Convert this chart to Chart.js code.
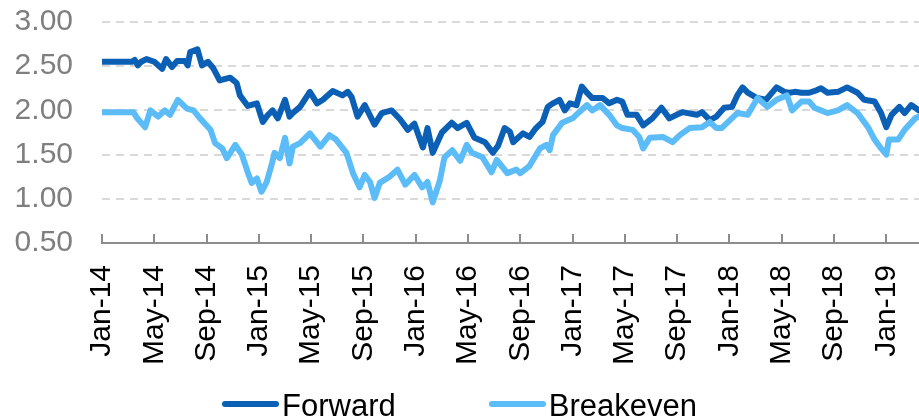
<!DOCTYPE html>
<html>
<head>
<meta charset="utf-8">
<script src="https://cdn.jsdelivr.net/npm/chart.js@4/dist/chart.umd.min.js"></script>
<style>
  html, body { margin: 0; padding: 0; background: #fff; }
  #wrap { position: relative; width: 919px; height: 419px; }
  #legend { position: absolute; left: 0; top: 390px; width: 919px; text-align: center;
            font-family: "Liberation Sans", Arial, sans-serif; font-size: 31px; line-height: 31px; color: #000; white-space: nowrap; }
  #legend .item { display: inline-block; }
  #legend .item + .item { margin-left: 93px; }
  #legend .bar { display: inline-block; width: 57px; height: 6px; border-radius: 3px; margin-right: 3px; vertical-align: 9px; }
</style>
</head>
<body>
<div id="wrap">
  <canvas id="chart"></canvas>
  <div id="legend"></div>
</div>
<script>
// axis labels, one every 4 months starting Jan-14
const tickLabels = ['Jan-14', 'May-14', 'Sep-14', 'Jan-15', 'May-15', 'Sep-15', 'Jan-16', 'May-16',
                    'Sep-16', 'Jan-17', 'May-17', 'Sep-17', 'Jan-18', 'May-18', 'Sep-18', 'Jan-19'];

// x = months since Jan-14
const fwdMonths = [0, 2.3, 2.5, 2.75, 3.0, 3.4, 4.0, 4.6, 4.9, 5.35, 5.75, 6.35, 6.55, 6.75, 7.3, 7.65, 8.1, 8.5, 9.0,
  9.8, 10.3, 10.55, 11.15, 11.85, 12.3, 12.7, 13.05, 13.45, 14.0, 14.35, 14.6, 15.15, 15.5, 15.9, 16.45, 16.9,
  17.65, 18.4, 18.8, 19.1, 19.55, 20.1, 20.85, 21.4, 22.15, 22.8, 23.4, 23.9, 24.55, 24.9, 25.3, 26.0, 26.75,
  27.2, 27.9, 28.5, 29.3, 29.9, 30.3, 30.8, 31.2, 31.45, 32.2, 32.7, 33.2, 33.7, 34.1, 34.5, 35.0, 35.4, 35.8,
  36.3, 36.7, 37.1, 37.5, 38.3, 38.8, 39.4, 39.8, 40.2, 40.9, 41.4, 42.1, 42.8, 43.4, 43.95, 44.4, 45.5, 45.9,
  46.5, 47.0, 47.6, 48.2, 48.6, 49.0, 49.4, 50.1, 50.8, 51.6, 52.2, 52.6, 53.0, 53.5, 54.1, 54.7, 55.0, 55.5,
  56.3, 57.0, 57.8, 58.3, 59.1, 59.6, 60.0, 60.4, 61.0, 61.4, 61.9, 62.5];
const forward = [2.55, 2.55, 2.57, 2.51, 2.55, 2.58, 2.55, 2.47, 2.58, 2.49, 2.56, 2.56, 2.51, 2.66, 2.69, 2.51, 2.55, 2.48, 2.34,
  2.37, 2.31, 2.17, 2.05, 2.08, 1.87, 1.95, 2.00, 1.91, 2.12, 1.93, 1.97, 2.04, 2.12, 2.21, 2.08, 2.12,
  2.22, 2.17, 2.21, 2.15, 1.93, 2.06, 1.84, 1.97, 2.00, 1.90, 1.78, 1.85, 1.58, 1.80, 1.52, 1.75, 1.86,
  1.80, 1.86, 1.69, 1.64, 1.52, 1.60, 1.80, 1.76, 1.64, 1.74, 1.70, 1.80, 1.87, 2.04, 2.08, 2.12, 2.00, 2.08,
  2.06, 2.27, 2.20, 2.14, 2.14, 2.08, 2.12, 2.10, 1.95, 1.95, 1.83, 1.91, 2.03, 1.91, 1.95, 1.98, 1.95, 1.98,
  1.89, 1.93, 2.03, 2.04, 2.17, 2.26, 2.20, 2.14, 2.12, 2.26, 2.21, 2.20, 2.21, 2.20, 2.20, 2.23, 2.25, 2.20,
  2.21, 2.26, 2.20, 2.12, 2.10, 1.97, 1.81, 1.95, 2.04, 1.97, 2.06, 2.00];

const beMonths = [0, 2.4, 2.7, 3.3, 3.7, 4.3, 4.8, 5.2, 5.8, 6.5, 7.0, 7.5, 8.3, 8.65, 9.2, 9.55, 10.2, 10.7, 11.15,
  11.45, 11.85, 12.2, 12.6, 13.0, 13.2, 13.6, 14.0, 14.35, 14.6, 15.15, 15.9, 16.7, 17.4, 17.9, 18.7, 19.2,
  19.7, 20.1, 20.5, 20.85, 21.25, 22.0, 22.6, 23.2, 23.9, 24.5, 24.9, 25.3, 25.85, 26.2, 26.8, 27.4, 27.9,
  28.3, 29.1, 29.8, 30.2, 31.0, 31.7, 32.0, 32.7, 33.5, 34.0, 34.25, 34.5, 35.2, 36.0, 36.5, 37.1, 37.5,
  38.1, 38.8, 39.4, 39.8, 40.6, 41.1, 41.4, 41.9, 42.9, 43.65, 44.2, 44.95, 45.9, 46.5, 47.0, 47.4, 47.9,
  48.6, 49.4, 50.15, 50.9, 51.6, 52.4, 52.8, 53.5, 54.1, 54.5, 55.5, 56.3, 57.0, 57.8, 58.6, 59.1, 59.6,
  60.0, 60.2, 60.9, 61.4, 62.2, 62.5];
const breakeven = [1.98, 1.98, 1.91, 1.81, 2.00, 1.93, 2.00, 1.95, 2.12, 2.02, 2.00, 1.91, 1.78, 1.63, 1.57, 1.46, 1.61, 1.50, 1.30,
  1.18, 1.23, 1.08, 1.19, 1.40, 1.52, 1.46, 1.69, 1.40, 1.59, 1.63, 1.74, 1.59, 1.72, 1.67, 1.52, 1.29,
  1.13, 1.27, 1.19, 1.01, 1.18, 1.25, 1.33, 1.16, 1.27, 1.13, 1.19, 0.96, 1.21, 1.47, 1.55, 1.43, 1.61,
  1.52, 1.47, 1.30, 1.44, 1.29, 1.33, 1.29, 1.37, 1.57, 1.61, 1.55, 1.72, 1.86, 1.91, 1.98, 2.06, 2.00,
  2.06, 1.95, 1.83, 1.80, 1.78, 1.70, 1.57, 1.69, 1.70, 1.64, 1.72, 1.80, 1.81, 1.87, 1.80, 1.80, 1.87,
  1.97, 1.95, 2.14, 2.04, 2.12, 2.17, 2.00, 2.10, 2.10, 2.03, 1.97, 2.00, 2.06, 1.97, 1.81, 1.67, 1.57,
  1.50, 1.67, 1.67, 1.78, 1.91, 1.93];

const FONT = '"Liberation Sans", Arial, sans-serif';

function toPoints(xs, ys) {
  return xs.map((x, i) => ({ x: x, y: ys[i] }));
}

const ctx = document.getElementById('chart').getContext('2d');
const chart = new Chart(ctx, {
  type: 'line',
  data: {
    datasets: [{
      label: 'Forward',
      data: toPoints(fwdMonths, forward),
      borderColor: '#0b5fb4',
      backgroundColor: '#0b5fb4',
      order: 1
    }, {
      label: 'Breakeven',
      data: toPoints(beMonths, breakeven),
      borderColor: '#5bbcf8',
      backgroundColor: '#5bbcf8',
      order: 0
    }]
  },
  options: {
    responsive: true,
    maintainAspectRatio: false,
    animation: false,
    layout: { padding: { top: 22, right: 0, bottom: 0, left: 0 } },
    elements: {
      point: { radius: 0 },
      line: { borderWidth: 6, tension: 0, borderJoinStyle: 'round', borderCapStyle: 'round' }
    },
    plugins: {
      legend: { display: false },
      tooltip: { enabled: false }
    },
    scales: {
      x: {
        type: 'linear',
        min: 0,
        max: 62.5,
        // fixed band under the plot: labels + room for the legend
        afterFit: s => { s.height = 176; s.paddingLeft = 0; s.paddingRight = 0; },
        grid: { drawOnChartArea: false, drawTicks: true, tickLength: -9, color: '#8c8c8c', lineWidth: 2 },
        border: { display: true, color: '#8c8c8c', width: 2 },
        ticks: {
          stepSize: 4,
          includeBounds: false,
          autoSkip: false,
          minRotation: 90,
          maxRotation: 90,
          padding: 31,
          color: '#000',
          font: { family: FONT, size: 30 },
          callback: v => tickLabels[Math.round(v / 4)]
        }
      },
      y: {
        min: 0.5,
        max: 3,
        afterFit: s => { s.width = 102; s.paddingTop = 0; s.paddingBottom = 0; },
        grid: { color: '#d9d9d9', lineWidth: 2, drawTicks: false },
        border: { display: false, dash: [8, 6] },
        ticks: {
          stepSize: 0.5,
          autoSkip: false,
          padding: 29,
          color: '#7f7f7f',
          font: { family: FONT, size: 30 },
          callback: v => v.toFixed(2)
        }
      }
    }
  }
});

// legend as html, in dataset order
const legendEl = document.getElementById('legend');
chart.data.datasets.forEach(ds => {
  const item = document.createElement('span');
  item.className = 'item';
  const bar = document.createElement('span');
  bar.className = 'bar';
  bar.style.background = ds.borderColor;
  item.appendChild(bar);
  item.appendChild(document.createTextNode(ds.label));
  legendEl.appendChild(item);
});
</script>
</body>
</html>
